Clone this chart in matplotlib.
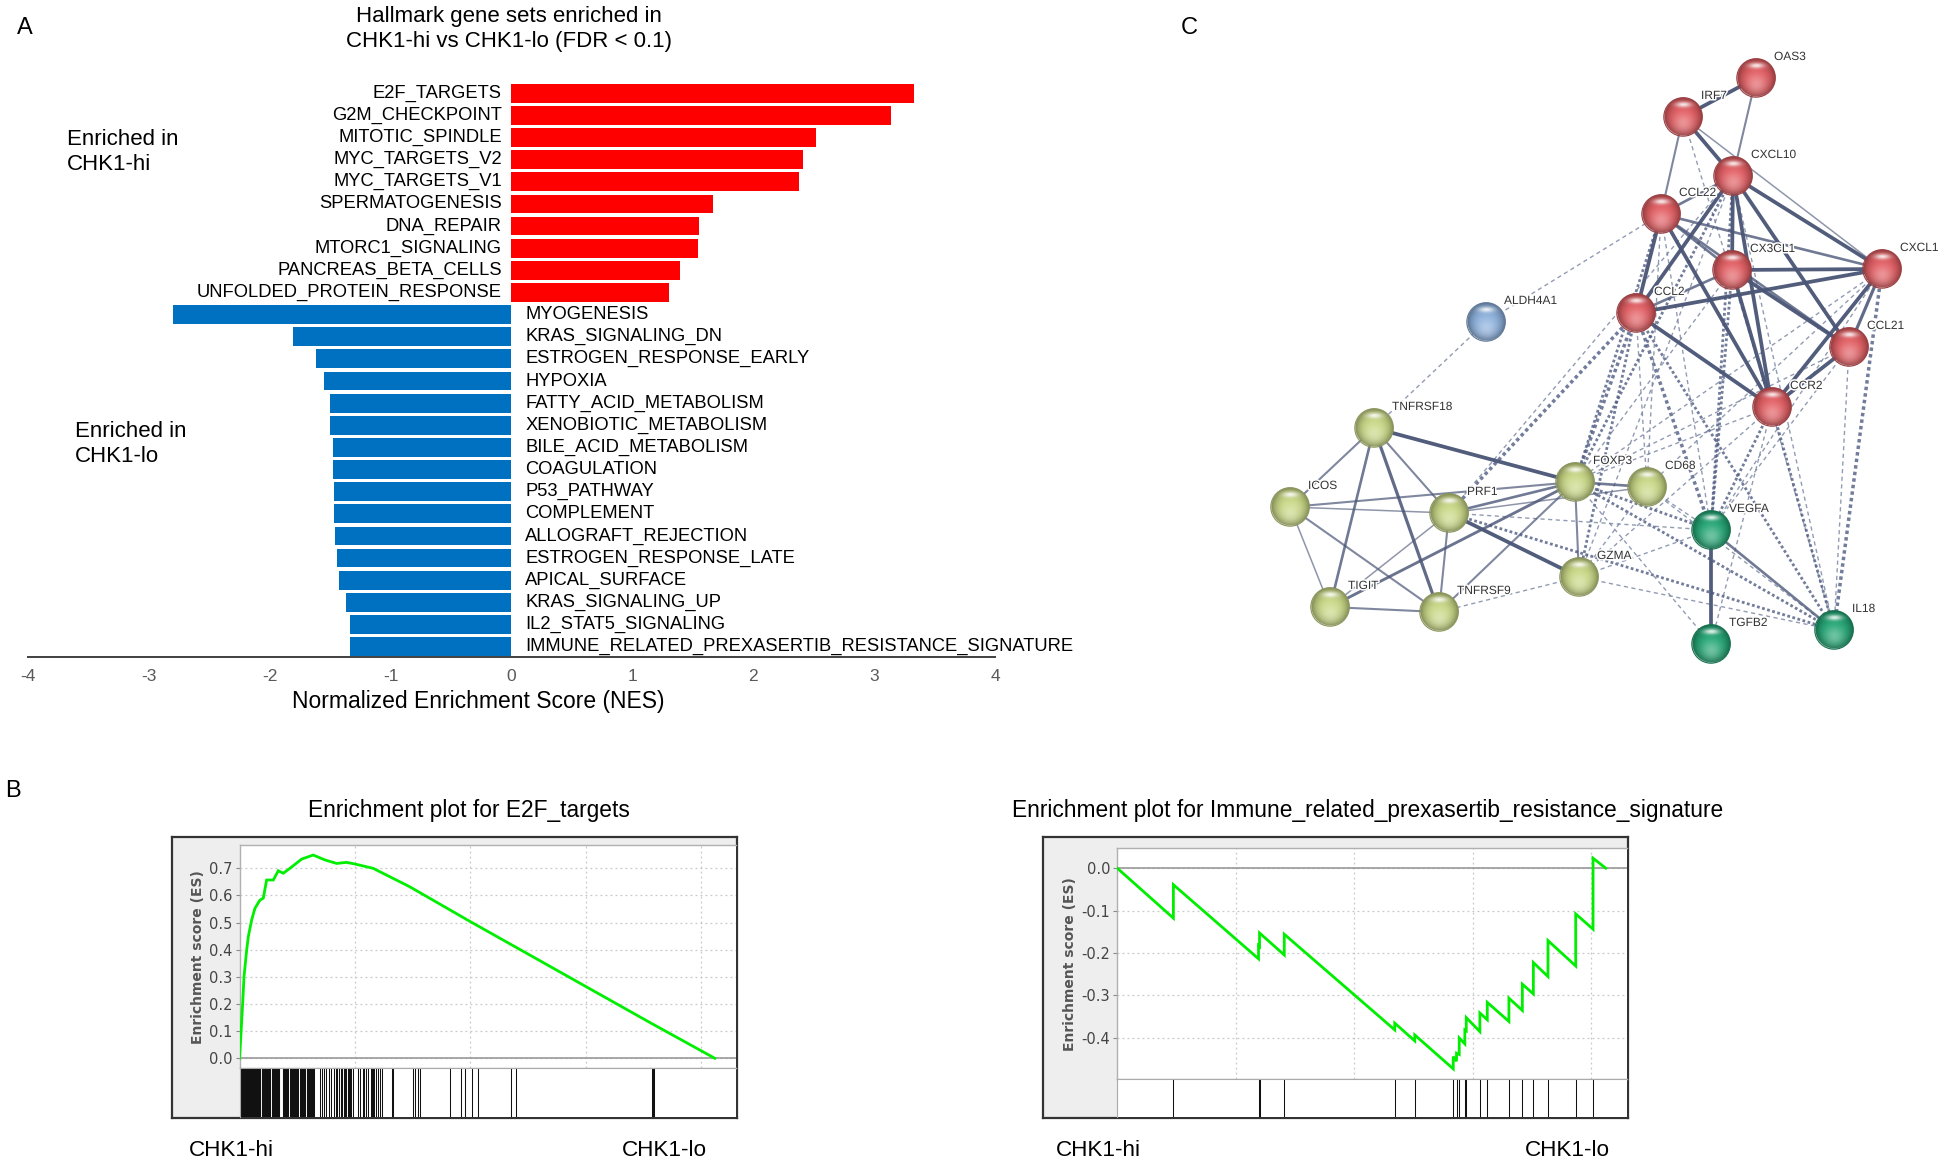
import numpy as np
import matplotlib
matplotlib.use('Agg')
import matplotlib.pyplot as plt
import matplotlib.colors as mcolors
import matplotlib.patheffects as pe
from matplotlib.patches import Circle

plt.rcParams['font.family'] = ['Liberation Sans', 'DejaVu Sans']

# ---------------- data: panel A (NES bars) ----------------
up_sets = ['E2F_TARGETS', 'G2M_CHECKPOINT', 'MITOTIC_SPINDLE', 'MYC_TARGETS_V2',
           'MYC_TARGETS_V1', 'SPERMATOGENESIS', 'DNA_REPAIR', 'MTORC1_SIGNALING',
           'PANCREAS_BETA_CELLS', 'UNFOLDED_PROTEIN_RESPONSE']
up_nes = [3.33, 3.14, 2.52, 2.41, 2.38, 1.67, 1.55, 1.54, 1.39, 1.30]
down_sets = ['MYOGENESIS', 'KRAS_SIGNALING_DN', 'ESTROGEN_RESPONSE_EARLY', 'HYPOXIA',
             'FATTY_ACID_METABOLISM', 'XENOBIOTIC_METABOLISM', 'BILE_ACID_METABOLISM',
             'COAGULATION', 'P53_PATHWAY', 'COMPLEMENT', 'ALLOGRAFT_REJECTION',
             'ESTROGEN_RESPONSE_LATE', 'APICAL_SURFACE', 'KRAS_SIGNALING_UP',
             'IL2_STAT5_SIGNALING', 'IMMUNE_RELATED_PREXASERTIB_RESISTANCE_SIGNATURE']
down_nes = [-2.80, -1.81, -1.62, -1.55, -1.50, -1.50, -1.48, -1.48, -1.47, -1.47,
            -1.46, -1.44, -1.43, -1.37, -1.34, -1.34]
nes_ticks = [-4, -3, -2, -1, 0, 1, 2, 3, 4]

# ---------------- data: panel B (GSEA running scores) ----------------
e2f_rank = [0, 65, 138, 195, 311, 381, 527, 670, 887, 1030, 1175, 1463, 1680, 1895,
            2184, 2690, 3192, 3698, 4204, 4637, 4996, 5787, 6510, 7374, 10008, 17850,
            18000, 20581]
e2f_es = [0, 0.092, 0.203, 0.30, 0.399, 0.448, 0.51, 0.553, 0.583, 0.59, 0.657, 0.657,
          0.691, 0.682, 0.70, 0.734, 0.749, 0.731, 0.718, 0.722, 0.716, 0.70, 0.669,
          0.632, 0.503, 0.128, 0.121, 0.0]
e2f_hits = [22, 55, 90, 120, 150, 185, 215, 250, 280, 315, 345, 380, 410, 445, 480, 510,
            545, 580, 610, 670, 700, 735, 770, 800, 835, 870, 900, 960, 990, 1025, 1060,
            1090, 1125, 1160, 1190, 1250, 1285, 1320, 1390, 1425, 1460, 1495, 1520, 1580,
            1615, 1650, 1690, 1723,
            1867, 1900, 1935, 1970, 2000, 2035, 2070, 2100, 2200, 2235, 2270, 2300, 2335,
            2370, 2400, 2435, 2470, 2500, 2535, 2620, 2650, 2700, 2735, 2770, 2800, 2835,
            2910, 2940, 2970, 3000, 3035, 3070, 3100, 3135, 3170, 3200, 3236,
            3475, 3561, 3662, 3763, 3878, 3979, 4080, 4195, 4240, 4296, 4411, 4460, 4512,
            4570, 4627, 4690, 4743, 4790, 4844, 4916,
            5147, 5233, 5349, 5400, 5464, 5565, 5680, 5720, 5781, 5830, 5897, 5998, 6070,
            6154, 6586, 6658, 7523, 7612, 7727, 7800, 9108, 9584, 9757, 10074, 10333,
            11772, 11988, 17860, 17910, 17960]

imm_rank = [0, 2366, 2366, 5957, 5957, 5999, 5999, 7043, 7043, 11703, 11703, 12548, 12548,
            14170, 14170, 14309, 14309, 14423, 14423, 14660, 14660, 14720, 14720, 15294,
            15294, 15606, 15606, 16519, 16519, 17085, 17085, 17550, 17550, 18167, 18167,
            19337, 19337, 20068, 20068, 20604]
imm_es = [0, -0.118, -0.039, -0.214, -0.183, -0.185, -0.153, -0.205, -0.156, -0.382,
          -0.366, -0.408, -0.394, -0.474, -0.445, -0.456, -0.437, -0.440, -0.401, -0.415,
          -0.382, -0.384, -0.353, -0.386, -0.342, -0.358, -0.317, -0.362, -0.307, -0.336,
          -0.274, -0.297, -0.223, -0.256, -0.171, -0.231, -0.108, -0.144, 0.0236, 0.0]
imm_hits = [2366, 5957, 5999, 7043, 11703, 12548, 14170, 14309, 14423, 14660, 14720,
            15294, 15606, 16519, 17085, 17550, 18167, 19337, 20068]

# ---------------- data: panel C (STRING network) ----------------
node_names = ['OAS3', 'IRF7', 'CXCL10', 'CCL22', 'CX3CL1', 'CXCL1', 'CCL2', 'CCL21', 'CCR2',
              'ALDH4A1', 'TNFRSF18', 'ICOS', 'PRF1', 'FOXP3', 'CD68', 'GZMA', 'TIGIT',
              'TNFRSF9', 'VEGFA', 'TGFB2', 'IL18']
node_x = [1756, 1683, 1733, 1661, 1732, 1882, 1636, 1849, 1772,
          1486, 1374, 1290, 1449, 1575, 1647, 1579, 1330, 1439, 1711, 1711, 1834]
node_y = [78, 117, 176, 214, 270, 269, 313, 347, 407,
          322, 428, 507, 513, 482, 487, 577, 607, 612, 530, 644, 630]
node_group = ['red'] * 9 + ['blue'] + ['yellow'] * 8 + ['green'] * 3

# (a, b, strength 1..3)
solid_edges = [
    ('IRF7', 'OAS3', 3), ('OAS3', 'CXCL10', 1.5), ('IRF7', 'CXCL10', 3), ('IRF7', 'CCL22', 1.5),
    ('IRF7', 'CXCL1', 1), ('CXCL10', 'CCL22', 2), ('CXCL10', 'CX3CL1', 3), ('CXCL10', 'CXCL1', 3),
    ('CXCL10', 'CCL2', 3), ('CXCL10', 'CCR2', 3), ('CXCL10', 'CCL21', 3), ('CCL22', 'CX3CL1', 2),
    ('CCL22', 'CXCL1', 2), ('CCL22', 'CCL2', 3), ('CCL22', 'CCR2', 3), ('CCL22', 'CCL21', 2),
    ('CX3CL1', 'CXCL1', 3), ('CX3CL1', 'CCL2', 2), ('CX3CL1', 'CCR2', 3), ('CX3CL1', 'CCL21', 3),
    ('CXCL1', 'CCL2', 3), ('CXCL1', 'CCL21', 2.5), ('CXCL1', 'CCR2', 3), ('CCL2', 'CCR2', 3),
    ('CCL21', 'CCR2', 3),
    ('TNFRSF18', 'ICOS', 1.5), ('TNFRSF18', 'TIGIT', 2), ('TNFRSF18', 'TNFRSF9', 2.5),
    ('TNFRSF18', 'PRF1', 1.5), ('TNFRSF18', 'FOXP3', 3), ('ICOS', 'PRF1', 1),
    ('ICOS', 'FOXP3', 1.5), ('ICOS', 'TIGIT', 1), ('ICOS', 'TNFRSF9', 1.5), ('PRF1', 'FOXP3', 2),
    ('PRF1', 'GZMA', 3), ('PRF1', 'TNFRSF9', 1.5), ('PRF1', 'TIGIT', 1), ('PRF1', 'CD68', 1),
    ('FOXP3', 'CD68', 2), ('FOXP3', 'GZMA', 1.5), ('FOXP3', 'TIGIT', 2.2), ('FOXP3', 'TNFRSF9', 1.5),
    ('TIGIT', 'TNFRSF9', 1.5), ('VEGFA', 'TGFB2', 3), ('VEGFA', 'IL18', 2),
]
dashed_edges = [
    ('ALDH4A1', 'CCL22', 1), ('ALDH4A1', 'TNFRSF18', 1), ('IRF7', 'CCR2', 1),
    ('CCL2', 'PRF1', 2.5), ('CCL2', 'FOXP3', 2.5), ('CCL2', 'GZMA', 2), ('CCL2', 'VEGFA', 2.5),
    ('CCL2', 'IL18', 2), ('CCL2', 'CD68', 1), ('CCL22', 'FOXP3', 2), ('CCL22', 'VEGFA', 1),
    ('CCL22', 'CD68', 1), ('CXCL10', 'FOXP3', 2), ('CXCL10', 'VEGFA', 2), ('CXCL10', 'IL18', 1),
    ('CXCL10', 'GZMA', 1), ('CXCL10', 'PRF1', 1), ('CX3CL1', 'VEGFA', 2), ('CX3CL1', 'IL18', 1),
    ('CX3CL1', 'FOXP3', 1), ('CXCL1', 'VEGFA', 1), ('CXCL1', 'IL18', 2.5), ('CXCL1', 'FOXP3', 1),
    ('CXCL1', 'CD68', 1), ('CCL21', 'IL18', 1), ('CCL21', 'VEGFA', 1), ('CCL21', 'FOXP3', 1),
    ('CCR2', 'IL18', 2), ('CCR2', 'VEGFA', 2), ('CCR2', 'FOXP3', 1), ('CCR2', 'GZMA', 1),
    ('CCR2', 'TGFB2', 1), ('FOXP3', 'VEGFA', 2), ('FOXP3', 'IL18', 2), ('FOXP3', 'TGFB2', 1),
    ('PRF1', 'VEGFA', 1), ('PRF1', 'IL18', 2), ('GZMA', 'TNFRSF9', 1), ('GZMA', 'IL18', 1),
    ('GZMA', 'VEGFA', 1), ('CD68', 'IL18', 1), ('CD68', 'VEGFA', 1), ('CD68', 'GZMA', 1),
]
group_color = {'red': '#e25a5f', 'yellow': '#c8d783', 'green': '#1fa472', 'blue': '#8aafdc'}

W, H = 1950, 1164


def box(l, t, r, b):
    return [l / W, 1 - b / H, (r - l) / W, (b - t) / H]


fig = plt.figure(figsize=(W / 100, H / 100), dpi=100)

# ================= panel A =================
ax = fig.add_axes(box(28, 80, 995, 656.8))
labels = up_sets + down_sets
vals = up_nes + down_nes
ypos = np.arange(len(vals))
cols = ['#ff0000'] * len(up_nes) + ['#0070c0'] * len(down_nes)
ax.barh(ypos, vals, height=0.85, color=cols)
for y, v, lab in zip(ypos, vals, labels):
    if v > 0:
        ax.text(-0.08, y, lab, ha='right', va='center', fontsize=13.2, color='black')
    else:
        ax.text(0.115, y, lab, ha='left', va='center', fontsize=13.2, color='black')
ax.set_xlim(-4, 4)
ax.set_ylim(25.46, -0.6)
for s in ['left', 'right', 'top']:
    ax.spines[s].set_visible(False)
ax.spines['bottom'].set_color('#404040')
ax.spines['bottom'].set_linewidth(1.4)
ax.set_yticks([])
ax.set_xticks(nes_ticks)
ax.set_xticklabels([str(t) for t in nes_ticks])
ax.tick_params(axis='x', length=0, pad=9, labelsize=12.5, labelcolor='#595959')
ax.set_xlabel('Normalized Enrichment Score (NES)', fontsize=16.5, labelpad=3)
ax.xaxis.set_label_coords(0.466, -0.058)
ax.patch.set_alpha(0)

fig.text(509 / W, 1 - 28.6 / H, 'Hallmark gene sets enriched in\nCHK1-hi vs CHK1-lo (FDR < 0.1)',
         ha='center', va='center', fontsize=16, linespacing=1.25)
fig.text(67 / W, 1 - 152 / H, 'Enriched in\nCHK1-hi', ha='left', va='center', fontsize=16,
         linespacing=1.25)
fig.text(75 / W, 1 - 444 / H, 'Enriched in\nCHK1-lo', ha='left', va='center', fontsize=16,
         linespacing=1.25)
fig.text(17 / W, 1 - 28 / H, 'A', ha='left', va='center', fontsize=17)
fig.text(5 / W, 1 - 791 / H, 'B', ha='left', va='center', fontsize=17)
fig.text(1181 / W, 1 - 28 / H, 'C', ha='left', va='center', fontsize=17)


# ================= panel B =================
def gsea_panel(frame, inner_l, es_top, split, ylim, yticks, ranks, es, hits, title, title_x):
    fl, ft, fr, fb = frame
    fax = fig.add_axes(box(fl, ft, fr, fb))
    fax.set_facecolor('#eeeeee')
    fax.set_xticks([])
    fax.set_yticks([])
    for s in fax.spines.values():
        s.set_color('#333333')
        s.set_linewidth(1.6)
    fax.set_zorder(0)

    eax = fig.add_axes(box(inner_l, es_top, fr - 1, split))
    eax.set_zorder(1)
    eax.set_facecolor('white')
    eax.plot(ranks, es, color='#00ee00', lw=2.0, zorder=3, solid_joinstyle='miter')
    eax.axhline(0, color='#999999', lw=1.2, zorder=2)
    eax.set_xlim(0, 21500)
    eax.set_ylim(*ylim)
    eax.set_xticks([5000, 10000, 15000, 20000])
    eax.set_yticks(yticks)
    eax.set_yticklabels([f'{t:.1f}' for t in yticks], family='DejaVu Sans')
    eax.grid(True, ls=(0, (1.5, 2.5)), color='#c8c8c8', lw=0.9)
    eax.tick_params(axis='x', length=0, labelbottom=False)
    eax.tick_params(axis='y', length=3, width=0.8, color='#888888', pad=2, labelsize=10.5,
                    labelcolor='#444444')
    for s in ['left', 'top', 'bottom']:
        eax.spines[s].set_color('#b0b0b0')
        eax.spines[s].set_linewidth(1.0)
    eax.spines['right'].set_visible(False)
    eax.set_ylabel('Enrichment score (ES)', family='DejaVu Sans', fontweight='bold',
                   fontsize=10, color='#555555', labelpad=3)

    hax = fig.add_axes(box(inner_l, split, fr - 1, fb - 1))
    hax.set_zorder(1)
    hax.set_facecolor('white')
    hax.vlines(hits, 0, 1, color='#111111', lw=0.75)
    hax.set_xlim(0, 21500)
    hax.set_ylim(0, 1)
    hax.set_xticks([])
    hax.set_yticks([])
    for s in ['top', 'left']:
        hax.spines[s].set_color('#aaaaaa')
    for s in ['bottom', 'right']:
        hax.spines[s].set_visible(False)

    fig.text(title_x / W, 1 - 811 / H, title, ha='center', va='center', fontsize=16.4)


gsea_panel((172, 837, 737, 1118.3), 239.5, 845, 1068.3, (-0.037, 0.786),
           [0.0, 0.1, 0.2, 0.3, 0.4, 0.5, 0.6, 0.7], e2f_rank, e2f_es, e2f_hits,
           'Enrichment plot for E2F_targets', 469)
gsea_panel((1043, 837, 1628, 1118.3), 1117.3, 848.3, 1079, (-0.498, 0.047),
           [0.0, -0.1, -0.2, -0.3, -0.4], imm_rank, imm_es, imm_hits,
           'Enrichment plot for Immune_related_prexasertib_resistance_signature', 1368)

for x, lab in [(189, 'CHK1-hi'), (622, 'CHK1-lo'), (1056, 'CHK1-hi'), (1525, 'CHK1-lo')]:
    fig.text(x / W, 1 - 1150 / H, lab, ha='left', va='center', fontsize=16.2)

# ================= panel C =================
cax = fig.add_axes(box(1240, 40, 1950, 680))
cax.set_xlim(1240, 1950)
cax.set_ylim(680, 40)
cax.set_aspect('equal')
cax.axis('off')

pos = {n: (x, y) for n, x, y in zip(node_names, node_x, node_y)}

for a, b, w in dashed_edges:
    (x1, y1), (x2, y2) = pos[a], pos[b]
    if w >= 2:
        cax.plot([x1, x2], [y1, y2], color='#4f5b82', lw=1.0 * w, alpha=0.8,
                 dashes=(1.0, 0.9), zorder=1)
    else:
        cax.plot([x1, x2], [y1, y2], color='#76829f', lw=1.0, alpha=0.8,
                 dashes=(3, 2.5), zorder=1)

for a, b, w in solid_edges:
    (x1, y1), (x2, y2) = pos[a], pos[b]
    cax.plot([x1, x2], [y1, y2], color='#4b5677', lw=0.8 * w + 0.3,
             alpha=0.45 + 0.17 * w, solid_capstyle='round', zorder=2)


def sphere(hexcol, n=96):
    base = np.array(mcolors.to_rgb(hexcol))
    u, v = np.meshgrid(np.linspace(-1, 1, n), np.linspace(-1, 1, n))
    d = np.sqrt(u ** 2 + v ** 2)
    rgb = base[None, None, :] * (1 - 0.38 * d ** 3)[..., None]
    glow = np.exp(-(u ** 2 + (v - 0.35) ** 2) / 0.3) * 0.35
    rgb = rgb + (1 - rgb) * glow[..., None]
    hl = np.exp(-(u ** 2 / 0.16 + (v + 0.62) ** 2 / 0.02)) * 0.85
    rgb = rgb + (1 - rgb) * hl[..., None]
    alpha = np.clip((1 - d) * n / 2, 0, 1)
    return np.dstack([np.clip(rgb, 0, 1), alpha])


r = 19.2
imgs = {g: sphere(c) for g, c in group_color.items()}
for n, x, y, g in zip(node_names, node_x, node_y, node_group):
    cax.imshow(imgs[g], extent=(x - r, x + r, y + r, y - r), zorder=4, interpolation='bilinear')
    edge = np.array(mcolors.to_rgb(group_color[g])) * 0.7
    cax.add_patch(Circle((x, y), r, fill=False, ec=edge, lw=0.8, zorder=5))
    cax.text(x + 18, y - 21, n, fontsize=8.6, color='#333333', ha='left', va='center',
             zorder=6, path_effects=[pe.withStroke(linewidth=2.2, foreground='white')])
cax.set_xlim(1240, 1950)
cax.set_ylim(680, 40)

fig.savefig('out.png', dpi=100)
